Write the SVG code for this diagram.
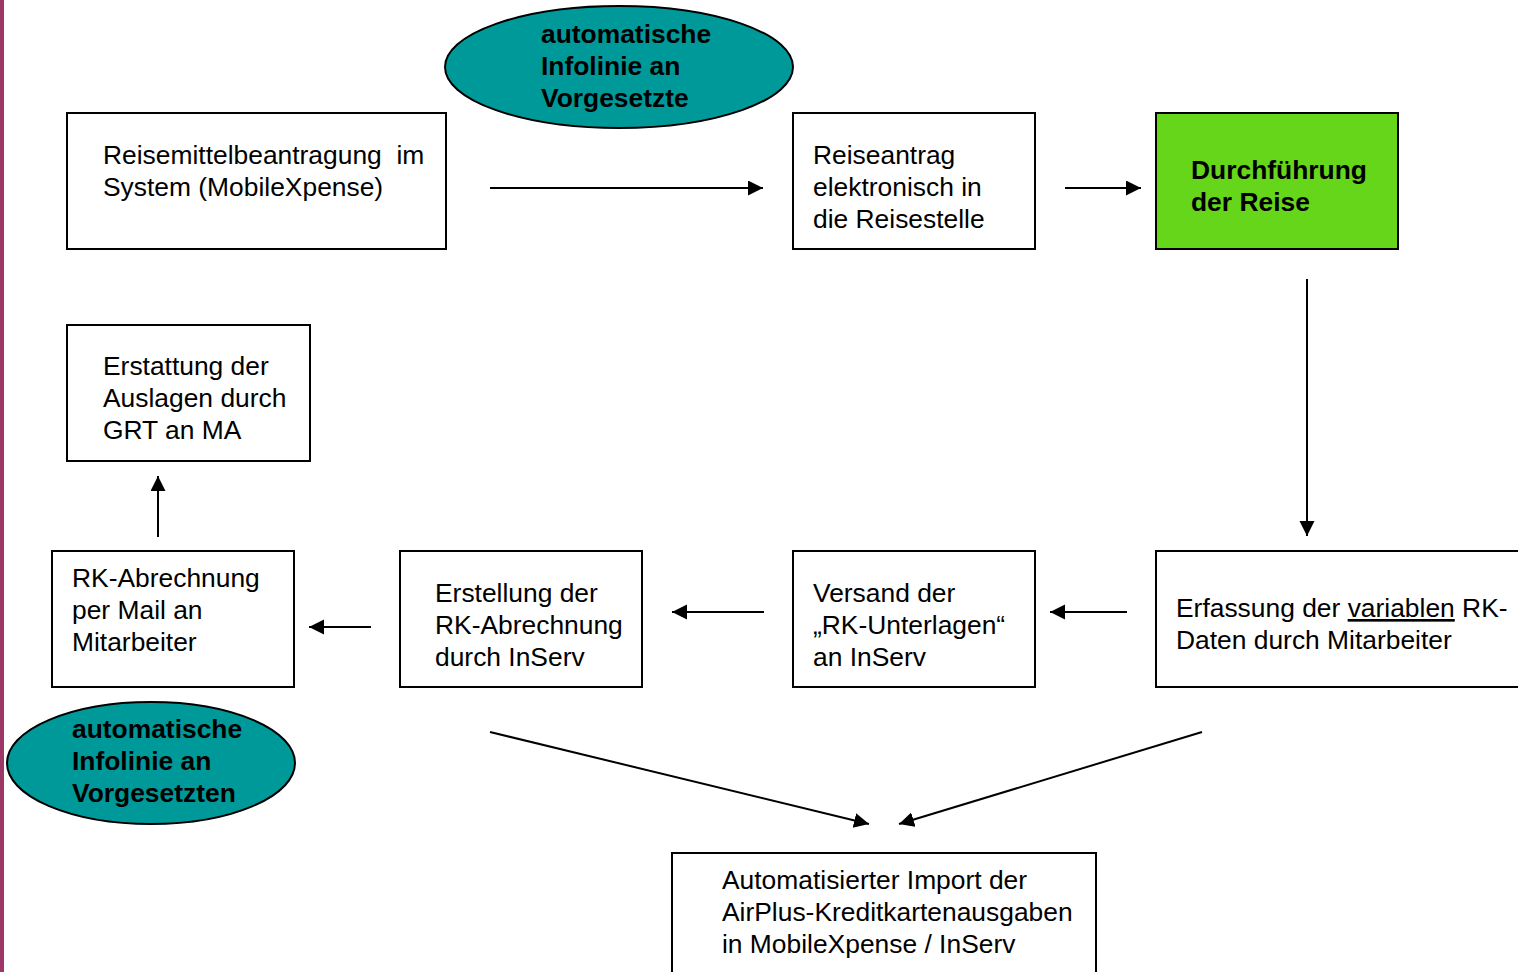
<svg xmlns="http://www.w3.org/2000/svg" width="1518" height="972" viewBox="0 0 1518 972">
<style>
.box{fill:#fff;stroke:#000;stroke-width:2}
.ell{fill:#009999;stroke:#000;stroke-width:2}
text{font-family:"Liberation Sans",Arial,sans-serif;font-size:26.4px;fill:#000}
.b{font-weight:bold}
.c line{stroke:#000;stroke-width:2;marker-end:url(#ah)}
</style>
<defs>
<marker id="ah" markerWidth="16" markerHeight="16" refX="15" refY="7.5" orient="auto" markerUnits="userSpaceOnUse">
<path d="M0,0 L15,7.5 L0,15 Z" fill="#000"/>
</marker>
</defs>
<rect x="0" y="0" width="4" height="972" fill="#9c3768"/>
<g id="n1"><rect class="box" x="67" y="113" width="379" height="136"/>
<text x="103" y="164" xml:space="preserve">Reisemittelbeantragung  im</text><text x="103" y="196">System (MobileXpense)</text></g>
<g id="e1"><ellipse class="ell" cx="619" cy="67" rx="174" ry="61"/>
<text class="b" x="541" y="43">automatische</text><text class="b" x="541" y="75">Infolinie an</text><text class="b" x="541" y="107">Vorgesetzte</text></g>
<g id="n2"><rect class="box" x="793" y="113" width="242" height="136"/>
<text x="813" y="164">Reiseantrag</text><text x="813" y="196">elektronisch in</text><text x="813" y="228">die Reisestelle</text></g>
<g id="n3"><rect x="1156" y="113" width="242" height="136" fill="#66d61a" stroke="#000" stroke-width="2"/>
<text class="b" x="1191" y="179">Durchführung</text><text class="b" x="1191" y="211">der Reise</text></g>
<g id="n4"><rect class="box" x="67" y="325" width="243" height="136"/>
<text x="103" y="375">Erstattung der</text><text x="103" y="407">Auslagen durch</text><text x="103" y="439">GRT an MA</text></g>
<g id="n5"><rect class="box" x="52" y="551" width="242" height="136"/>
<text x="72" y="587">RK-Abrechnung</text><text x="72" y="619">per Mail an</text><text x="72" y="651">Mitarbeiter</text></g>
<g id="n6"><rect class="box" x="400" y="551" width="242" height="136"/>
<text x="435" y="602">Erstellung der</text><text x="435" y="634">RK-Abrechnung</text><text x="435" y="666">durch InServ</text></g>
<g id="n7"><rect class="box" x="793" y="551" width="242" height="136"/>
<text x="813" y="602">Versand der</text><text x="813" y="634">„RK-Unterlagen“</text><text x="813" y="666">an InServ</text></g>
<g id="n8"><rect class="box" x="1156" y="551" width="380" height="136"/>
<text x="1176" y="617">Erfassung der <tspan text-decoration="underline">variablen</tspan> RK-</text><text x="1176" y="649">Daten durch Mitarbeiter</text></g>
<g id="e2"><ellipse class="ell" cx="151" cy="763" rx="144" ry="61"/>
<text class="b" x="72" y="738">automatische</text><text class="b" x="72" y="770">Infolinie an</text><text class="b" x="72" y="802">Vorgesetzten</text></g>
<g id="n9"><rect class="box" x="672" y="853" width="424" height="130"/>
<text x="722" y="889">Automatisierter Import der</text><text x="722" y="921">AirPlus-Kreditkartenausgaben</text><text x="722" y="953">in MobileXpense / InServ</text></g>
<g id="connectors" class="c">
<line x1="490" y1="188" x2="763" y2="188"/>
<line x1="1065" y1="188" x2="1141" y2="188"/>
<line x1="1307" y1="279" x2="1307" y2="536"/>
<line x1="1127" y1="612" x2="1050" y2="612"/>
<line x1="764" y1="612" x2="672" y2="612"/>
<line x1="371" y1="627" x2="309" y2="627"/>
<line x1="158" y1="537" x2="158" y2="476"/>
<line x1="490" y1="732" x2="869" y2="824"/>
<line x1="1202" y1="732" x2="899" y2="824"/>
</g>
</svg>
